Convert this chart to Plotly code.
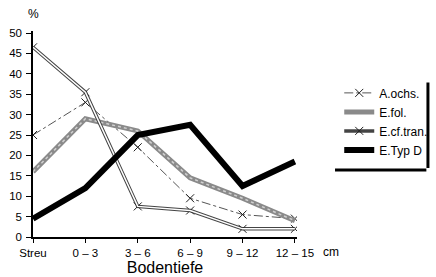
import plotly.graph_objects as go

categories = ["Streu", "0 – 3", "3 – 6", "6 – 9", "9 – 12", "12 – 15"]
a_ochs = [25, 33, 22, 9.5, 5.5, 4.5]
e_fol = [16, 29, 26, 14.5, 9.5, 4]
e_cf_tran = [46.5, 35.5, 7.5, 6.5, 2, 2]
e_typ_d = [4.5, 12, 25, 27.5, 12.5, 18.5]
y_ticks = [0, 5, 10, 15, 20, 25, 30, 35, 40, 45, 50]

FONT = "Liberation Sans, Arial, sans-serif"

fig = go.Figure()
fig.add_trace(go.Scatter(x=categories, y=a_ochs, name="A.ochs.", mode="lines+markers",
                         line=dict(color="#555", width=1, dash="dashdot"),
                         marker=dict(symbol="x-thin", size=8, line=dict(color="#222", width=1))))
fig.add_trace(go.Scatter(x=categories, y=e_fol, name="E.fol.", mode="lines",
                         line=dict(color="#8a8a8a", width=5)))
fig.add_trace(go.Scatter(x=categories, y=e_fol, showlegend=False, mode="lines", hoverinfo="skip",
                         line=dict(color="#d0d0d0", width=1.5, dash="dot")))
fig.add_trace(go.Scatter(x=categories, y=e_cf_tran, name="E.cf.tran.", mode="lines+markers",
                         line=dict(color="#444", width=3.5),
                         marker=dict(symbol="x-thin", size=8, line=dict(color="#222", width=1))))
fig.add_trace(go.Scatter(x=categories, y=e_cf_tran, showlegend=False, mode="lines", hoverinfo="skip",
                         line=dict(color="white", width=1.5)))
fig.add_trace(go.Scatter(x=categories, y=e_typ_d, name="E.Typ D", mode="lines",
                         line=dict(color="black", width=6)))

fig.update_layout(
    width=436, height=277,
    margin=dict(l=33, r=139, t=31, b=40, autoexpand=False),
    paper_bgcolor="white", plot_bgcolor="white",
    font=dict(family=FONT, size=11.5, color="black"),
    showlegend=True,
    legend=dict(x=1.16, y=0.77, xanchor="left", yanchor="top",
                font=dict(size=12, family=FONT), bgcolor="rgba(0,0,0,0)",
                tracegroupgap=0, itemwidth=30),
    xaxis=dict(type="category", range=[0, 5.04], showgrid=False, zeroline=False,
               showline=True, linecolor="black", linewidth=1.5, automargin=False,
               ticks="outside", ticklen=4, tickcolor="black",
               title=dict(text="Bodentiefe", font=dict(size=16, family=FONT), standoff=4)),
    yaxis=dict(range=[0, 50.5], tickvals=y_ticks, showgrid=False, zeroline=False,
               showline=True, linecolor="black", linewidth=1.5, automargin=False,
               ticks="outside", ticklen=5, tickcolor="black", ticklabelstandoff=2),
    annotations=[
        dict(text="%", x=0, y=1.04, xref="paper", yref="paper", showarrow=False,
             xanchor="center", yanchor="bottom", font=dict(size=12)),
        dict(text="cm", x=1.09, y=-0.03, xref="paper", yref="paper", showarrow=False,
             xanchor="left", yanchor="top", font=dict(size=12)),
    ],
    shapes=[
        dict(type="line", xref="paper", yref="paper", x0=1.496, x1=1.496, y0=0.335, y1=0.75,
             line=dict(color="black", width=3)),
        dict(type="line", xref="paper", yref="paper", x0=1.144, x1=1.490, y0=0.325, y1=0.325,
             line=dict(color="black", width=3)),
    ],
)

fig.write_html("out.html", config={"displayModeBar": False},
               post_script="document.body.style.margin='0';")
